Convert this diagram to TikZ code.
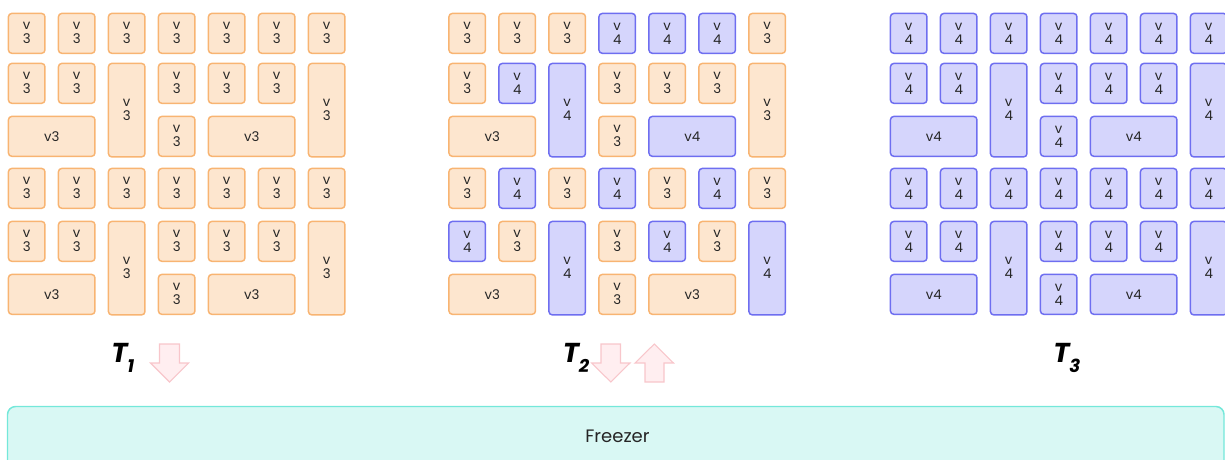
\documentclass[tikz,border=0pt]{standalone}
\usepackage{fontspec}
\setmainfont{Poppins}
\definecolor{orfill}{HTML}{FDE6CF}
\definecolor{ordraw}{HTML}{F8B472}
\definecolor{blfill}{HTML}{D5D5FC}
\definecolor{bldraw}{HTML}{6E6EF0}
\definecolor{tefill}{HTML}{D9F8F4}
\definecolor{tedraw}{HTML}{74E8DA}
\definecolor{pkfill}{HTML}{FFEEF0}
\definecolor{pkdraw}{HTML}{F8C6CB}
\definecolor{txt}{HTML}{262626}
\tikzset{
  bx/.style={draw, rounded corners=2.5pt, line width=1.1pt, anchor=north west,
    inner sep=0pt, align=center, text=txt, font=\fontsize{10}{10.5}\selectfont},
  sz/.style={minimum width=27.4pt, minimum height=29.9pt},
  wz/.style={minimum width=64.9pt, minimum height=29.9pt},
  tz/.style={minimum width=27.4pt, minimum height=70.1pt},
  ver3/.style={fill=orfill, draw=ordraw},
  ver4/.style={fill=blfill, draw=bldraw},
  tlabel/.style={anchor=base west, inner sep=0pt, font=\fontsize{20.5}{20.5}\selectfont\bfseries\itshape},
  blockarrow/.style={fill=pkfill, draw=pkdraw, line width=0.8pt, line join=miter},
  freezerbox/.style={fill=tefill, draw=tedraw, line width=1.1pt, rounded corners=6pt},
}
\newcommand\gridrow[4]{%
  \foreach \vv [count=\cc from 0] in {#4} {%
    \node[bx,sz,ver\vv] (#1c\cc) at ({#2+50*\cc+0.7},{#3+0.7}) {v\\\vv};}}
\newcommand\gridblock[4]{%
  \foreach \va/\vb/\vc/\vd/\ve/\vf/\vg/\vh/\vi/\vj in {#4} {%
    \node[bx,sz,ver\va] (#1a) at ({#2+0.7},{#3+0.7}) {v\\\va};
    \node[bx,sz,ver\vb] (#1b) at ({#2+50+0.7},{#3+0.7}) {v\\\vb};
    \node[bx,wz,ver\vc] (#1c) at ({#2+0.7},{#3+53+0.7}) {v\vc};
    \node[bx,tz,ver\vd] (#1d) at ({#2+100+0.7},{#3+0.7}) {v\\\vd};
    \node[bx,sz,ver\ve] (#1e) at ({#2+150+0.7},{#3+0.7}) {v\\\ve};
    \node[bx,sz,ver\vf] (#1f) at ({#2+150+0.7},{#3+53+0.7}) {v\\\vf};
    \node[bx,sz,ver\vg] (#1g) at ({#2+200+0.7},{#3+0.7}) {v\\\vg};
    \node[bx,sz,ver\vh] (#1h) at ({#2+250+0.7},{#3+0.7}) {v\\\vh};
    \node[bx,wz,ver\vi] (#1i) at ({#2+200+0.7},{#3+53+0.7}) {v\vi};
    \node[bx,tz,ver\vj] (#1j) at ({#2+300+0.7},{#3+0.7}) {v\\\vj};
  }}
\newcommand\tlab[1]{T\raisebox{-8.2pt}{\fontsize{13.5}{13.5}\selectfont #1}}
\begin{document}
\begin{tikzpicture}[x=0.75pt,y=-0.75pt]
\useasboundingbox (0,0) rectangle (1225,460);
\clip (0,0) rectangle (1225,460);
% grid T1
\gridrow{gAr1}{7}{12}{3,3,3,3,3,3,3}
\gridblock{gAb1}{7}{62}{3/3/3/3/3/3/3/3/3/3}
\gridrow{gAr4}{7}{167}{3,3,3,3,3,3,3}
\gridblock{gAb2}{7}{220}{3/3/3/3/3/3/3/3/3/3}
% grid T2
\gridrow{gBr1}{447.5}{12}{3,3,3,4,4,4,3}
\gridblock{gBb1}{447.5}{62}{3/4/3/4/3/3/3/3/4/3}
\gridrow{gBr4}{447.5}{167}{3,4,3,4,3,4,3}
\gridblock{gBb2}{447.5}{220}{4/3/3/4/3/3/4/3/3/4}
% grid T3
\gridrow{gCr1}{889}{12}{4,4,4,4,4,4,4}
\gridblock{gCb1}{889}{62}{4/4/4/4/4/4/4/4/4/4}
\gridrow{gCr4}{889}{167}{4,4,4,4,4,4,4}
\gridblock{gCb2}{889}{220}{4/4/4/4/4/4/4/4/4/4}
% labels
\node[tlabel] (t1) at (111,362) {\tlab{1}};
\node[tlabel] (t2) at (562.5,362) {\tlab{2}};
\node[tlabel] (t3) at (1053,362) {\tlab{3}};
% arrows
\draw[blockarrow] (159.5,344) -- (179.5,344) -- (179.5,363) -- (188.5,363) -- (169.5,382)
  -- (150.5,363) -- (159.5,363) -- cycle;
\draw[blockarrow] (601,344) -- (620.5,344) -- (620.5,363) -- (630,363) -- (610.8,382)
  -- (591.6,363) -- (601,363) -- cycle;
\draw[blockarrow] (654.3,344) -- (673.5,363) -- (664,363) -- (664,382) -- (645,382)
  -- (645,363) -- (635,363) -- cycle;
% freezer
\draw[freezerbox] (7.5,406.5) rectangle (1224,490);
\node[font=\fontsize{13.5}{13.5}\selectfont, text=black!85] (freezer) at (617.5,436) {Freezer};
\end{tikzpicture}
\end{document}
